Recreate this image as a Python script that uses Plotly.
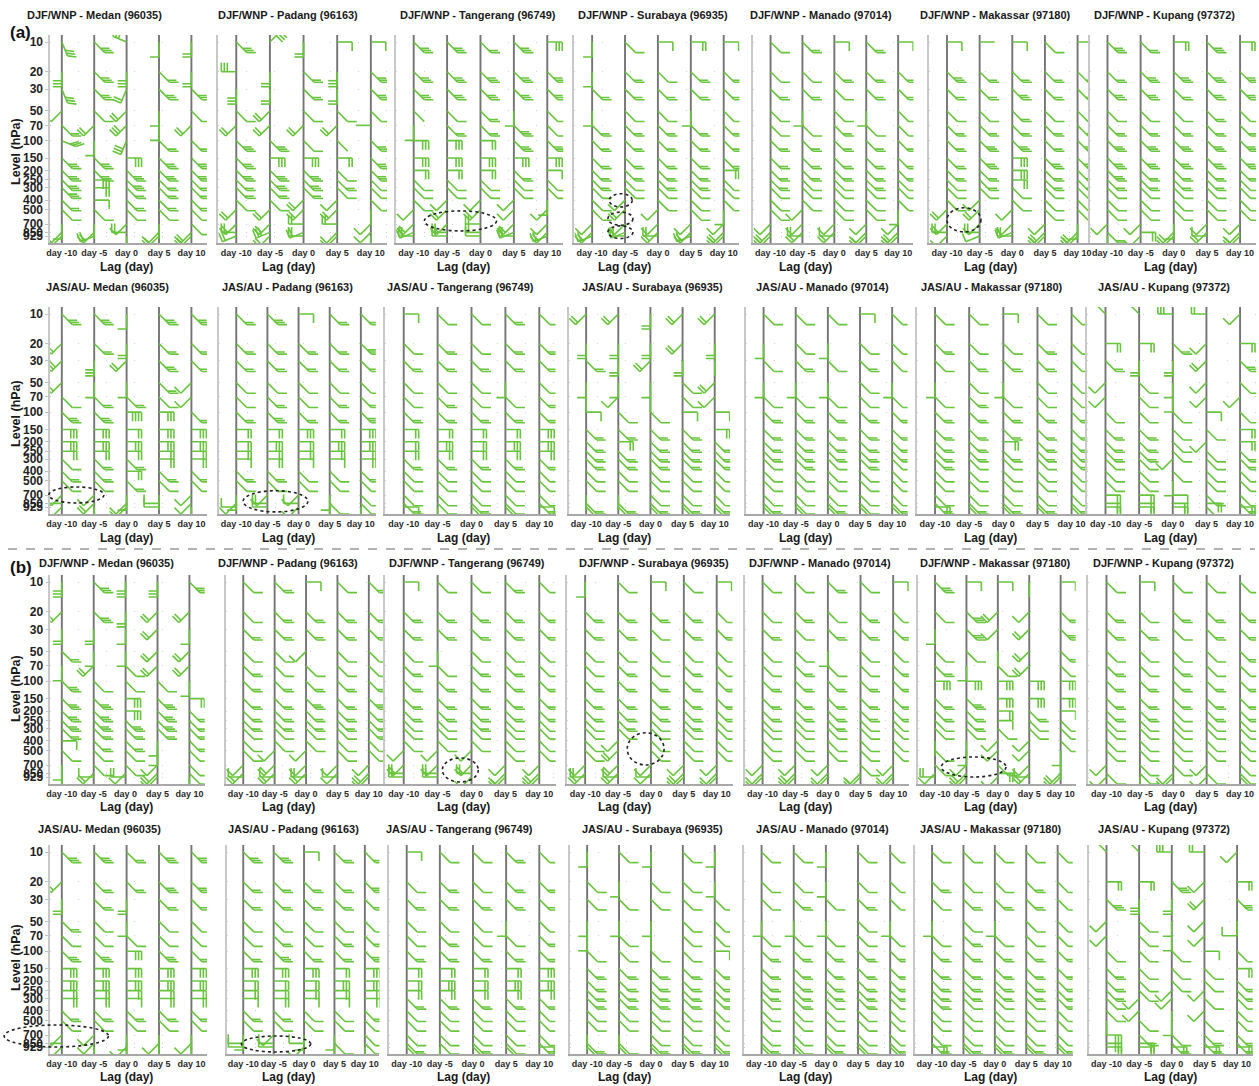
import math
import plotly.graph_objects as go

# ---------------- data ----------------
levels = [10, 20, 30, 50, 70, 100, 150, 200, 250, 300, 400, 500, 700, 850, 925]
level_labels = [str(v) for v in levels]
lags = [-10, -5, 0, 5, 10]
lag_labels = ["day -10", "day -5", "day 0", "day 5", "day 10"]

stations = ["Medan (96035)", "Padang (96163)", "Tangerang (96749)", "Surabaya (96935)",
            "Manado (97014)", "Makassar (97180)", "Kupang (97372)"]
titles_djf = ["DJF/WNP - " + s for s in stations]
titles_jas = ["JAS/AU- " + stations[0]] + ["JAS/AU - " + s for s in stations[1:]]

# Each string = one lag (day -10 ... day 10); 15 tokens = levels 10 ... 925 hPa.
# Token = compass direction the barb staff points to + number of full feathers.
medan_djf_a = [
    "SSE3 S3 SSE3 SW1 SE2 ESE3 SE3 SE3 SE3 SE3 SE2 SE1 S1 SW1 SW2",
    "SE3 SE3 SE3 SE1 SW2 S1 SE3 SE3 E3 E2 E1 SE1 S0 SW2 WSW2",
    "WNW3 S3 SSW2 SW2 SW3 SSW3 E3 SE3 SE3 SE2 SE2 SE1 SW1 W2 S1",
    "S1 SE2 SE3 S1 S1 SE2 SE3 SE3 SE2 SE2 SE2 SE1 S0 SW1 SW2",
    "S2 S2 SE3 SE1 SW2 SE2 SE3 SE3 SE2 SE2 SE2 SE1 SE1 SW2 SW2"]
padang_djf_a = [
    "SE3 W3 S3 SE1 SW2 SE3 SE3 SE3 SE2 SE2 SE1 SW2 SW2 W2 WSW2",
    "NE3 S2 S2 SW2 SW2 SE3 E3 SE3 SE3 SE2 SE1 SW2 SW2 WSW3 SW2",
    "S2 SE2 SE2 SE1 SW2 SE1 E3 SE3 SE3 SE2 SW2 SW2 W2 WSW2 W2",
    "E1 S3 S2 SE1 SW2 SE0 E2 SE1 SE2 SE1 SW1 SW2 W2 SW1 SW1",
    "E1 SE3 SE3 SE1 W0 SE3 SE3 SE3 SE1 SE1 SE1 S0 SW1 SW1 S1"]
tangerang_djf_a = [
    "SE3 SE3 SE3 SE0 S1 E3 E3 E2 SE1 SE1 SE1 SW1 SW2 WSW2 W2",
    "SE3 SE3 SE3 SE1 SE2 E3 E3 E2 SE1 SE1 SW1 SW2 SW2 W2 W2",
    "SE2 SE3 SE3 SE2 SE2 E2 E3 E2 SE1 SE1 SW1 SW2 W2 W2 W1",
    "SE3 SE3 SE3 S1 SE3 SE3 E3 SE2 SE1 SE1 SW1 SW1 SW2 WSW2 W2",
    "E3 SE3 SE3 SE1 SE1 SE3 E3 E1 SE1 SE1 S1 SW1 SW1 SW2 WSW2"]
surabaya_djf_a = [
    "S1 S1 SE2 S1 SE2 SE2 SE2 SE2 SE2 SE1 SE1 SE1 SW1 SW2 WSW2",
    "SE1 SE2 SE2 SE1 SE2 SE2 SE2 SE2 SE1 SE1 SW1 SW2 SW1 WSW2 W2",
    "E1 SE1 SE2 SE1 SE2 SE2 SE2 SE2 SE2 SE1 SE1 SW1 SW1 SW2 W2",
    "E2 SE2 SE2 S1 SE2 SE2 SE2 SE2 SE2 SE1 SE1 SE1 SW1 SW2 WSW2",
    "E1 SE2 SE2 SE1 SE2 SE2 SE2 E2 SE1 SE1 SE1 S1 SW1 SW2 SW2"]
manado_djf_a = [
    "SE1 SE1 SE2 SE1 SE1 SE2 SE2 SE2 SE2 SE1 SE1 SE1 SW1 SW2 SW2",
    "SE2 SE1 SE2 S1 SE1 SE2 SE2 SE2 SE1 SE1 SE1 SW1 SW1 SW2 W2",
    "E1 SE2 SE1 SE1 SE2 SE2 SE2 SE2 SE1 SE1 SE1 SE1 SW1 SW2 W1",
    "SE2 SE2 SE2 S1 SE1 SE2 SE2 SE2 SE2 SE1 SE1 SE1 SW1 SW1 SW2",
    "E1 SE2 SE2 SE1 SE1 SE2 SE2 SE2 SE1 SE1 SE1 S1 SW1 SW2 SW2"]
makassar_djf_a = [
    "E1 SE3 SE2 SE1 SE2 SE2 SE2 SE2 SE1 SE1 SE1 SW2 SW2 W2 SW1",
    "E0 SE2 SE2 SE1 SE2 SE3 SE3 SE2 SE2 SE1 SW1 SW2 SW1 W2 WSW1",
    "E1 SE2 SE3 SE2 SE2 SE3 E3 E3 E2 SE1 SE1 SW1 SW1 WSW2 W2",
    "SE1 SE2 SE2 SE1 SE2 SE2 SE3 SE2 SE2 SE1 SE1 SE1 SW1 SW2 SW2",
    "E1 SE2 SE2 SE1 SE2 SE3 SE3 SE2 SE2 SE1 SE1 SE1 S1 SW2 SW2"]
kupang_djf_a = [
    "SE3 SE2 SE3 SE1 SE2 SE3 SE3 SE3 SE2 SE1 SE1 SE1 SW1 SE2 S1",
    "SE2 SE3 SE3 SE1 SE2 SE3 SE3 SE2 SE2 SE1 SE1 SE1 SW1 E2 SW1",
    "E2 SE3 SE2 SE1 SE2 SE3 SE3 SE2 SE2 SE1 SE1 SE1 S1 SW2 SW1",
    "SE3 SE3 SE3 SE2 SE2 SE3 SE3 SE2 SE2 SE1 SE1 SE1 SW1 SW2 W1",
    "E2 SE3 SE3 SE1 SE2 SE3 SE3 SE2 SE1 SE1 SE1 SE1 SW1 SW1 SW2"]

medan_jas_a = [
    "SE3 SW2 SW3 SW2 SE1 SE3 E3 E3 E2 SE1 SE2 SE1 SW1 W1 SW1",
    "SE3 SE2 S3 S1 SE2 SE3 E3 E3 E2 SE2 SE2 SE1 SW1 SW2 S1",
    "S1 S2 SW2 S1 SE2 E4 E2 E3 E2 SE2 E2 SE2 S1 SW1 SW1",
    "SE3 SE2 SE3 SE2 SE1 E3 E3 E3 E2 E2 SE2 SE1 S0 W1 W1",
    "SE3 SE2 SE2 SW1 SW1 SE2 E3 E3 E2 E2 SE2 SE1 SW1 SW1 S1"]
padang_jas_a = [
    "SE2 SE2 SE2 SE1 SE1 SE2 E2 E2 E2 E1 SE2 SE1 S1 SW1 W1",
    "SE3 SE2 SE2 SE1 SE2 SE3 E2 E3 E2 E2 SE2 SE1 SW1 W2 W1",
    "E1 SE2 SE2 SE1 SE1 SE2 E3 E2 E2 E1 SE1 SE1 SW1 W1 SW1",
    "SE2 SE2 SE2 SE1 SE2 SE2 E2 E3 E2 E1 SE1 SE1 S1 SE1 S1",
    "SE2 SE3 SE2 SE1 SE2 SE3 E3 E3 E2 E2 SE2 SE1 SE1 SE1 S1"]
tangerang_jas_a = [
    "E1 SE1 SE2 SE1 SE1 SE2 E2 E2 E2 SE2 SE1 SE1 SE1 SE2 E1",
    "SE1 SE2 SE2 SE1 SE2 SE2 E2 E3 E2 SE2 SE1 SE1 SE1 SE1 S1",
    "SE1 SE1 SE2 SE1 SE1 SE2 E2 E2 E2 SE2 SE1 SE1 SE1 SE2 SE1",
    "SE2 SE2 SE2 S1 SE1 SE2 E2 E3 E2 SE2 SE1 SE1 SE1 SE1 SE1",
    "SE1 SE2 SE2 SE1 SE2 SE2 E3 E3 E2 SE2 SE1 SE1 SE1 SE2 E1"]
surabaya_jas_a = [
    "SW2 S2 SE2 S1 S0 E1 SE2 SE2 SE2 SE2 SE1 SE1 S0 SE2 SE2",
    "SW2 S2 S2 S1 SW1 SE1 SE2 E2 SE2 SE2 SE1 SE1 S0 SE2 SE2",
    "S2 S2 SW2 S1 S0 SE1 SE2 SE2 SE2 SE2 SE1 SE1 SE1 SE2 SE2",
    "SW2 SW2 S2 SE1 SE1 E1 SE2 SE2 SE2 SE2 SE1 SE1 SE1 SE2 SE2",
    "SW2 S2 S0 SW2 SW1 E1 E2 SE2 SE2 SE2 SE1 SE1 SE1 SE2 SE2"]
manado_jas_a = [
    "SE1 S1 SE1 S1 SE1 SE2 SE2 SE2 SE2 SE1 SE1 SE1 SE1 SE2 SE1",
    "SE1 SE1 SE2 S1 SE1 SE2 SE2 SE2 SE2 SE2 SE1 SE1 SE1 SE1 SE1",
    "SE1 S1 SE1 S1 SE1 SE2 SE2 SE2 SE2 SE1 SE1 SE1 SE1 SE2 SE1",
    "E1 SE1 SE2 SE1 SE1 SE2 SE2 SE2 SE2 SE2 SE1 SE1 SE1 SE1 SE1",
    "SE1 SE1 SE1 S1 SE1 SE2 SE2 SE2 SE2 SE1 SE1 SE1 SE1 SE2 SE1"]
makassar_jas_a = [
    "SE1 SE2 SE1 S1 SE1 SE2 SE2 SE2 SE2 SE2 SE1 SE1 SE1 SE2 E2",
    "SE1 SE1 SE2 SE1 SE2 SE2 SE2 SE2 SE2 SE1 SE1 SE1 SE1 SE2 SE1",
    "E1 SE1 SE2 S1 SE1 SE2 SE2 E2 SE2 SE1 SE1 SE1 SE1 SE2 SE1",
    "SE1 SE2 SE2 SE1 SE1 SE2 SE2 SE2 SE2 SE1 SE1 SE1 SE1 SE2 SE2",
    "SE1 SE1 SE1 SE1 SE1 SE2 SE2 SE2 SE2 SE2 SE1 SE1 SE1 SE2 SE2"]
kupang_jas_a = [
    "NW1 E2 SE2 SW1 SW1 SE1 SE2 SE2 SE2 SE1 SE1 SE1 E2 E2 E2",
    "NW1 E2 S2 SE1 SE1 SE1 SE2 SE2 SE2 SE1 SE1 SE1 E2 E2 E2",
    "W3 SE2 S2 S1 S1 SE1 SE1 SE1 SE1 SW1 SE1 S1 E1 E2 E2",
    "W2 SW1 SW2 SW1 SW1 E1 SE1 SW1 SE1 SE1 SE1 SE1 SE2 E2 SE2",
    "SW1 E2 SE3 SE1 SW1 SE1 E2 E2 SE2 SE2 SE1 SE1 SE1 SE2 E2"]

medan_djf_b = [
    "S3 SW2 S2 SE2 S1 SE3 SE3 SE3 SE3 SE2 E1 SE1 S1 S1 S0",
    "SE3 SE3 S2 S1 SW2 SE1 SE3 SE3 SE3 SE2 SE2 SE1 SE1 SW2 W1",
    "S3 S2 S1 S1 SE1 SE1 E3 E3 SE3 SE2 SE2 SE1 SE1 SW1 W2",
    "S3 SW2 SW2 SW2 SW2 SE1 SE3 SE3 SE3 SE2 S1 S1 SW1 SW2 SW1",
    "SE3 SW2 S1 SW2 SW2 S1 E2 SE2 SE2 SE2 SE2 SE1 SE1 SE1 S0"]
padang_djf_b = [
    "SE1 SE1 SE2 SE1 SE2 SE2 SE2 SE2 SE2 SE1 SE1 SE1 SW1 SW2 W1",
    "SE2 SE2 SE2 SE1 SE1 SE2 SE2 SE2 SE2 SE1 SE1 SW1 SW2 SW2 W1",
    "E1 SE2 SE2 SW1 SE1 SE2 SE3 SE2 SE2 SE1 SE1 SW1 SW1 SW2 W2",
    "SE1 SE2 SE2 SE1 SE1 SE2 SE2 SE2 SE2 SE1 SE1 SE1 SW1 SW1 W1",
    "SE2 SE2 SE2 SE1 SE1 SE2 SE3 SE2 SE2 SE2 SE1 SE1 SW1 SW2 SW1"]
tangerang_djf_b = [
    "E1 SE2 SE2 SE1 SE2 SE2 SE2 SE2 SE1 SE1 SE1 SW1 SW2 W2 W2",
    "SE1 SE2 SE2 S1 SE1 SE2 SE2 SE2 SE1 SE1 SE1 SW1 SW1 W2 W2",
    "SE1 SE2 SE2 SE1 SE2 SE2 SE2 SE2 SE2 SE1 SE1 SW1 SW2 W2 SW1",
    "SE2 SE2 SE2 SE1 SE2 SE2 SE2 SE2 SE1 SE1 SE1 SE1 SW1 SW1 SW2",
    "SE1 SE2 SE2 SE1 SE1 SE2 SE2 SE2 SE1 SE1 SE1 SE1 SW1 SW2 SW1"]
surabaya_djf_b = [
    "S1 SE2 SE2 SE1 SE1 SE2 SE2 SE2 SE1 SE1 SE1 SE1 SW1 SW2 W2",
    "SE1 SE2 SE2 SE1 SE2 SE2 SE2 SE2 SE2 SE1 SW1 SW2 SW2 SW2 W1",
    "E1 SE2 SE1 SE1 SE1 SE2 SE2 SE2 SE1 SE1 SE1 SE1 SW1 SW1 W1",
    "SE1 SE2 SE2 SE1 SE2 SE2 SE2 SE2 SE2 SE1 SE1 SE1 SW1 SW2 SW1",
    "E1 SE1 SE2 SE1 SE1 SE2 SE2 SE2 SE1 SE1 SE1 SE1 SW1 SW1 SW1"]
manado_djf_b = [
    "SE1 SE1 SE2 SE1 SE1 SE2 SE2 SE2 SE1 SE1 SE1 SE1 SW1 SW1 SW1",
    "SE1 SE2 SE1 SE1 SE2 SE2 SE2 SE2 SE1 SE1 SE1 SE1 SW1 SW2 SW1",
    "SE2 SE1 SE2 S1 SE1 SE2 SE2 SE2 SE2 SE1 SE1 SE1 SW1 SW1 SW1",
    "SE1 SE2 SE2 SE1 SE1 SE2 SE2 SE2 SE1 SE1 SE1 SE1 SE1 SW1 SW2",
    "E1 SE1 SE2 SE1 SE2 SE2 SE2 SE2 SE1 SE1 SE1 SE1 SW1 SW1 SW1"]
makassar_djf_b = [
    "SE3 SE1 S1 SE1 SE2 E3 SE2 SE2 SE1 SE1 S0 SE1 SE1 SW1 W2",
    "E1 SE3 SE3 SE1 S1 E3 SE3 SE2 SE2 SE1 S0 S1 SW1 SW2 SW1",
    "E1 SW2 SW1 S0 SE1 E3 E3 E2 E1 SE1 SW1 SW1 SE2 E2 SW1",
    "S0 SW1 SW2 SW2 SW2 E3 E3 SE2 SE1 SE1 SW1 SW1 SW1 SW2 W1",
    "E1 SE2 SE3 SE2 SE1 E3 E3 E1 SE1 SE1 SE1 S1 S0 SW2 SW1"]
kupang_djf_b = [
    "SE1 SE2 SE2 SE1 SE2 SE2 SE2 SE2 SE1 SE1 SE1 SE1 SW1 SE1 SW1",
    "E1 SE1 SE2 SE1 SE1 SE2 SE2 SE2 SE1 SE1 SE1 SE1 SE1 SE1 S1",
    "SE1 SE2 SE1 SE1 SE2 SE2 SE2 SE1 SE1 SE1 SE1 SE1 SE1 SW1 SW1",
    "SE1 SE2 SE2 SE1 SE1 SE2 SE2 SE2 SE1 SE1 SE1 SE1 SW1 SE1 SW1",
    "SE1 SE2 SE2 SE2 SE1 SE2 SE2 SE2 SE1 SE1 SE1 SE1 SE1 SE1 SE2"]

medan_jas_b = [
    "SE3 SW2 S2 SE2 SE1 SE3 E3 E3 E2 E2 SE2 SE1 SW1 W1 SW1",
    "SE3 SE2 SE2 SE1 SE1 SE3 E3 E3 E2 E2 SE2 SE1 SW1 SW1 S1",
    "SE2 SE2 S2 S1 SE1 E3 E3 E3 E2 E1 SE2 SE1 S1 S1 SW1",
    "SE3 SE3 SE2 SE1 SE1 SE3 E3 E3 E2 E2 SE2 SE1 S0 SW1 S1",
    "SE3 SE3 SE2 SE1 SE1 SE2 E3 E3 E2 E2 SE2 SE1 S0 SW1 S1"]
padang_jas_b = [
    "SE3 SE2 SE2 SE1 SE1 SE2 E3 E2 E2 E1 SE2 SE1 S1 W1 W1",
    "SE3 SE2 SE2 SE1 SE2 SE3 E3 E2 E2 E2 SE2 SE1 SW1 W1 W1",
    "E1 SE2 SE2 SE1 SE1 SE2 E3 E2 E2 E1 SE1 SE1 S1 W1 SW1",
    "SE2 SE2 SE2 SE1 SE2 SE2 E2 E3 E2 E1 SE1 SE1 S1 SE1 S1",
    "SE2 SE3 SE2 SE1 SE2 SE3 E3 E3 E2 E2 SE2 SE1 SE1 SE1 S1"]
tangerang_jas_b = [
    "E1 SE1 SE2 SE1 SE1 SE2 E2 E2 E2 SE2 SE1 SE1 SE1 SE2 SE1",
    "SE1 SE2 SE2 SE1 SE2 SE2 E2 E3 E2 SE2 SE1 SE1 SE1 SE1 S1",
    "SE1 SE1 SE2 SE1 SE1 SE2 E2 E2 E2 SE2 SE1 SE1 SE1 SE2 SE1",
    "SE2 SE2 SE2 S1 SE1 SE2 E2 E3 E2 SE2 SE1 SE1 SE1 SE1 SE1",
    "SE1 SE2 SE2 SE1 SE2 SE2 E3 E3 E2 SE2 SE1 SE1 SE1 SE2 E1"]
surabaya_jas_b = [
    "S1 SE1 SE1 S1 S1 SE1 SE2 SE2 SE2 SE2 SE1 SE1 S0 SE2 SE2",
    "SE1 S1 SE1 S1 SE1 SE1 SE2 SE2 SE2 SE2 SE1 SE1 S0 SE1 SE2",
    "S1 SE1 SE1 S1 S0 SE1 SE2 SE2 SE2 SE2 SE1 SE1 SE1 SE2 SE2",
    "SE1 SE1 SE1 SE1 SE1 SE1 SE2 SE2 SE2 SE2 SE1 SE1 SE1 SE2 SE2",
    "S1 S1 SE1 SE1 SE1 E1 SE2 SE2 SE2 SE2 SE1 SE1 SE1 SE2 SE2"]
manado_jas_b = [
    "SE1 SE1 SE1 S1 SE1 SE2 SE2 SE2 SE2 SE1 SE1 SE1 SE1 SE2 SE1",
    "SE1 SE1 SE2 S1 SE1 SE2 SE2 SE2 SE2 SE2 SE1 SE1 SE1 SE1 SE1",
    "S1 S1 SE1 S1 SE1 SE2 SE2 SE2 SE2 SE1 SE1 SE1 SE1 SE2 SE1",
    "SE1 SE1 SE2 SE1 SE1 SE2 SE2 SE2 SE2 SE2 SE1 SE1 SE1 SE1 SE1",
    "SE1 SE1 SE1 S1 SE1 SE2 SE2 SE2 SE2 SE1 SE1 SE1 SE1 SE2 SE1"]
makassar_jas_b = [
    "SE1 SE2 SE1 S1 SE1 SE2 SE2 SE2 SE2 SE2 SE1 SE1 SE1 SE2 E2",
    "SE1 SE1 SE2 SE1 SE2 SE2 SE2 SE2 SE2 SE1 SE1 SE1 SE1 SE2 SE1",
    "SE1 SE1 SE2 S1 SE1 SE2 SE2 SE2 SE2 SE1 SE1 SE1 SE1 SE2 SE1",
    "SE1 SE2 SE2 SE1 SE1 SE2 SE2 SE2 SE2 SE1 SE1 SE1 SE1 SE2 SE2",
    "SE1 SE1 SE1 SE1 SE1 SE2 SE2 SE2 SE2 SE2 SE1 SE1 SE1 SE2 SE2"]
kupang_jas_b = [
    "NW1 E2 SE3 SW1 SW1 SE1 SE2 SE2 SE2 SE1 SE1 S0 E3 E3 E2",
    "NW1 E2 S3 SE1 SE1 SE1 SE1 SE1 SE1 SW1 SW1 SE1 SE2 E2 E2",
    "W3 SE3 S2 S1 S1 SE1 SE1 SE1 SW1 SW1 S0 S1 SE1 SE2 E2",
    "W2 SW1 SW2 SW1 SW1 E1 SE1 SE1 SW1 SE1 SW1 SE1 SE2 SE2 E2",
    "SW1 E2 SE3 S0 W1 SE1 E2 SE2 SE2 SE1 SE1 SE1 SE2 SE2 E2"]

panel_rows = [
    [medan_djf_a, padang_djf_a, tangerang_djf_a, surabaya_djf_a, manado_djf_a, makassar_djf_a, kupang_djf_a],
    [medan_jas_a, padang_jas_a, tangerang_jas_a, surabaya_jas_a, manado_jas_a, makassar_jas_a, kupang_jas_a],
    [medan_djf_b, padang_djf_b, tangerang_djf_b, surabaya_djf_b, manado_djf_b, makassar_djf_b, kupang_djf_b],
    [medan_jas_b, padang_jas_b, tangerang_jas_b, surabaya_jas_b, manado_jas_b, makassar_jas_b, kupang_jas_b],
]
row_titles = [titles_djf, titles_jas, titles_djf, titles_jas]

# highlighted (dotted) regions: (row, col, lag from, lag to, p top, p bottom)
highlights = [
    (0, 2, -8.4, 2.4, 515, 822),
    (0, 3, -7.4, -3.9, 345, 470),
    (0, 3, -7.6, -3.8, 530, 720),
    (0, 3, -7.6, -3.8, 730, 980),
    (0, 5, -10.0, -4.8, 479, 841),
    (1, 0, -12.0, -3.5, 578, 841),
    (1, 1, -8.9, 1.5, 631, 1038),
    (2, 2, -4.3, 1.0, 594, 1038),
    (2, 3, -3.6, 2.0, 331, 700),
    (2, 5, -9.0, 1.3, 581, 925),
    (3, 0, -18.9, -2.8, 555, 925),
    (3, 1, -10.3, 1.1, 716, 1038),
]

# ---------------- layout geometry (pixels) ----------------
W, H = 1259, 1086
staff_m10 = [[58, 233, 411, 590, 769, 946, 1107], [58, 233, 401, 584, 762, 934, 1105],
             [58, 240, 401, 583, 761, 934, 1106], [58, 240, 404, 585, 760, 931, 1106]]
staff_p10 = [[188, 368, 545, 722, 897, 1077, 1240], [188, 358, 537, 713, 891, 1071, 1240],
             [186, 366, 537, 715, 892, 1060, 1240], [188, 362, 537, 713, 889, 1057, 1237]]
row_y10 = [42, 314, 582, 852]
row_y925 = [236, 507, 777, 1047]
title_y = [15, 287, 563, 829]
title_x = [[91, 285, 476, 651, 820, 995, 1164], [104, 284, 458, 651, 821, 991, 1164],
           [103, 285, 464, 652, 819, 995, 1163], [96, 290, 457, 651, 821, 990, 1164]]
lag_title_x = [123, 285, 461, 622, 804, 990, 1170]
lag_title_dy = [31, 31, 30, 30]
level_title_y = [151, 413, 688, 957]
x_left = [-11.8, -12.7, -12.7, -12.7, -12.7, -12.7, -12.7]
x_right = 12.4

FONT = "Arial, 'Liberation Sans', sans-serif"
GREEN = "#68c43c"
STAFF = "#747474"

DIRS = {"E": 0, "ENE": 22.5, "NE": 45, "NNE": 67.5, "N": 90, "NNW": 112.5, "NW": 135,
        "WNW": 157.5, "W": 180, "WSW": 202.5, "SW": 225, "SSW": 247.5, "S": 270,
        "SSE": 292.5, "SE": 315, "ESE": 337.5}
# feather turn (deg) relative to the staff direction, per staff direction
TURN = {"E": -90, "ENE": -90, "NE": -90, "NNE": -90, "N": -90, "NNW": -90, "NW": -90,
        "WNW": -90, "W": -90, "WSW": -90, "SW": -90, "SSW": -90, "S": -90,
        "SSE": 60, "SE": 45, "ESE": 40}
SHAFT, FEATHER, GAP = 15.0, 9.0, 3.0


def geom(r, c):
    s0, s1 = staff_m10[r][c], staff_p10[r][c]
    ppd = (s1 - s0) / 20.0
    ppdec = (row_y925[r] - row_y10[r]) / (math.log10(925) - 1.0)
    return s0, ppd, ppdec


def barb_xy(lag, p, tok, ppd, ppdec):
    k = len(tok.rstrip("0123456789"))
    d = tok[:k]
    n = int(tok[k:])
    ang = math.radians(DIRS[d])
    ux, uy = math.cos(ang), math.sin(ang)
    fa = ang + math.radians(TURN[d])
    fx, fy = math.cos(fa), math.sin(fa)
    segs = [[(0.0, 0.0), (ux * SHAFT, uy * SHAFT)]]
    for i in range(n):
        bx, by = ux * (SHAFT - i * GAP), uy * (SHAFT - i * GAP)
        segs.append([(bx, by), (bx + fx * FEATHER, by + fy * FEATHER)])
    xs, ys = [], []
    lp = math.log10(p)
    for seg in segs:
        for dx, dy in seg:
            xs.append(lag + dx / ppd)
            ys.append(10 ** (lp - dy / ppdec))
        xs.append(None)
        ys.append(None)
    return xs, ys


fig = go.Figure()
layout = dict(width=W, height=H, margin=dict(l=0, r=0, t=0, b=0),
              paper_bgcolor="white", plot_bgcolor="white", showlegend=False)
annotations = []
shapes = []

n = 0
for r in range(4):
    for c in range(7):
        n += 1
        sfx = "" if n == 1 else str(n)
        s0, ppd, ppdec = geom(r, c)
        x_lo, x_hi = x_left[c], x_right
        left_px = s0 + (x_lo + 10) * ppd
        right_px = s0 + (x_hi + 10) * ppd
        top_px = row_y10[r] - 7
        bot_px = row_y925[r] + 7
        y_top_log = 1.0 - 7.0 / ppdec
        y_bot_log = math.log10(925) + 7.0 / ppdec

        layout["xaxis" + sfx] = dict(
            domain=[left_px / W, right_px / W], anchor="y" + sfx, range=[x_lo, x_hi],
            tickmode="array", tickvals=lags, ticktext=lag_labels, ticks="", tickangle=0,
            tickfont=dict(family=FONT, size=9, color="#2a2a2a", weight="bold"),
            showline=True, linecolor="#a8a8a8", linewidth=1.5, showgrid=False,
            zeroline=False, fixedrange=True)
        layout["yaxis" + sfx] = dict(
            domain=[1 - bot_px / H, 1 - top_px / H], anchor="x" + sfx, type="log",
            range=[y_bot_log, y_top_log], tickmode="array", tickvals=levels,
            ticktext=level_labels, showticklabels=(c == 0),
            ticks="outside" if c == 0 else "", ticklen=3, tickcolor="#c4c4c4",
            tickfont=dict(family=FONT, size=12, color="#222222", weight="bold"),
            showline=True, linecolor="#c8c8c8", linewidth=1.5,
            showgrid=True, gridcolor="#cfcfcf", gridwidth=1, griddash="1px,27px",
            zeroline=False, fixedrange=True)

        sx, sy = [], []
        for lag in lags:
            sx += [lag, lag, None]
            sy += [10 ** y_top_log, 10 ** y_bot_log, None]
        fig.add_trace(go.Scatter(x=sx, y=sy, mode="lines", xaxis="x" + sfx, yaxis="y" + sfx,
                                 line=dict(color=STAFF, width=1.9), hoverinfo="skip"))
        bx, by = [], []
        panel = panel_rows[r][c]
        for li, lag in enumerate(lags):
            toks = panel[li].split()
            for p, tok in zip(levels, toks):
                xs, ys = barb_xy(lag, p, tok, ppd, ppdec)
                bx += xs
                by += ys
        fig.add_trace(go.Scatter(x=bx, y=by, mode="lines", xaxis="x" + sfx, yaxis="y" + sfx,
                                 line=dict(color=GREEN, width=1.6), hoverinfo="skip"))

        annotations.append(dict(text="<b>" + row_titles[r][c] + "</b>", xref="paper", yref="paper",
                                x=title_x[r][c] / W, y=1 - title_y[r] / H, showarrow=False,
                                xanchor="center", yanchor="middle",
                                font=dict(family=FONT, size=11, color="#1a1a1a")))
        annotations.append(dict(text="<b>Lag (day)</b>", xref="paper", yref="paper",
                                x=lag_title_x[c] / W, y=1 - (row_y925[r] + lag_title_dy[r]) / H,
                                showarrow=False, xanchor="center", yanchor="middle",
                                font=dict(family=FONT, size=12, color="#1a1a1a")))
    annotations.append(dict(text="<b>Level (hPa)</b>", xref="paper", yref="paper",
                            x=12 / W, y=1 - level_title_y[r] / H, showarrow=False, textangle=-90,
                            xanchor="center", yanchor="middle",
                            font=dict(family=FONT, size=12.5, color="#1a1a1a")))

annotations.append(dict(text="<b>(a)</b>", xref="paper", yref="paper", x=17 / W, y=1 - 32 / H,
                        showarrow=False, xanchor="center", yanchor="middle",
                        font=dict(family=FONT, size=17, color="#111111")))
annotations.append(dict(text="<b>(b)</b>", xref="paper", yref="paper", x=17 / W, y=1 - 567 / H,
                        showarrow=False, xanchor="center", yanchor="middle",
                        font=dict(family=FONT, size=17, color="#111111")))

shapes.append(dict(type="line", xref="paper", yref="paper", x0=4 / W, x1=1255 / W,
                   y0=1 - 549 / H, y1=1 - 549 / H, line=dict(color="#666666", width=1, dash="dash")))

for (r, c, l0, l1, p0, p1) in highlights:
    s0, ppd, ppdec = geom(r, c)
    x0 = s0 + (l0 + 10) * ppd
    x1 = s0 + (l1 + 10) * ppd
    y0 = row_y10[r] + (math.log10(p0) - 1) * ppdec
    y1 = row_y10[r] + (math.log10(p1) - 1) * ppdec
    shapes.append(dict(type="circle", xref="paper", yref="paper",
                       x0=x0 / W, x1=x1 / W, y0=1 - y1 / H, y1=1 - y0 / H,
                       line=dict(color="#222222", width=1.6, dash="dot")))

layout["annotations"] = annotations
layout["shapes"] = shapes
fig.update_layout(**layout)
fig.write_html("out.html", config={"displayModeBar": False},
               post_script="document.body.style.margin='0';document.body.style.overflow='hidden';")
